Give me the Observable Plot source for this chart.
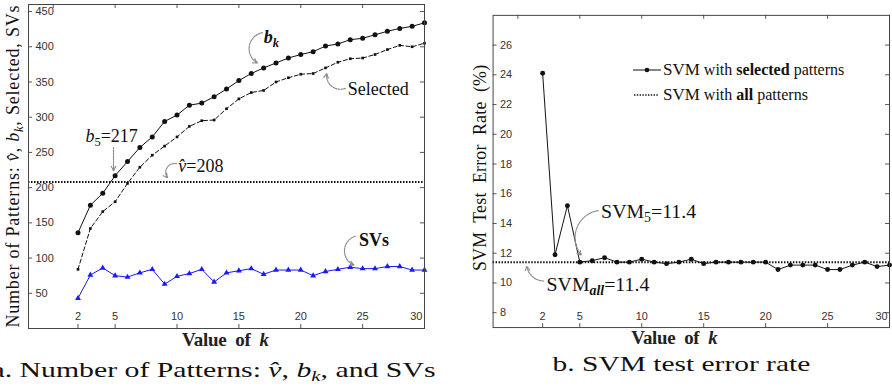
<!DOCTYPE html>
<html><head><meta charset="utf-8">
<script src="https://cdn.jsdelivr.net/npm/d3@7"></script>
<script src="https://cdn.jsdelivr.net/npm/@observablehq/plot@0.6"></script>
<style>
html,body{margin:0;padding:0;background:#fff;overflow:hidden;width:892px;height:391px;}
#wrap{position:relative;width:892px;height:391px;overflow:hidden;background:#fff;}
#left{position:absolute;left:-20px;top:0;}
#right{position:absolute;left:446px;top:0;}
.lrow{position:absolute;left:633px;height:24px;display:flex;align-items:center;font-family:"Liberation Serif","Times New Roman",serif;font-size:16px;color:#111;white-space:nowrap;}
.lrow svg{display:block;margin-right:2px;}
.big{font-size:17px;}
</style></head>
<body><div id="wrap"><div id="left"></div><div id="right"></div>
<div class="lrow" style="top:58px"><svg width="28" height="24"><line x1="0" x2="28" y1="12" y2="12" stroke="#111" stroke-width="1"/><circle cx="14" cy="12" r="2.3" fill="#111"/></svg><span><span class="big">SVM</span> with <b>selected</b> patterns</span></div>
<div class="lrow" style="top:83px"><svg width="28" height="24"><line x1="1" x2="25" y1="12" y2="12" stroke="#111" stroke-width="1.6" stroke-dasharray="1.4,1.4"/></svg><span><span class="big">SVM</span> with <b>all</b> patterns</span></div>
</div>
<script>
// ---------- data ----------
const kValues = [2,3,4,5,6,7,8,9,10,11,12,13,14,15,16,17,18,19,20,21,22,23,24,25,26,27,28,29,30];
const bk       = [136,175,192,217,237,257,272,294,303,317,320,329,340,352,362,370,377,384,389,393,401,404,410,412,417,422,426,429,434];
const selected = [84,142,166,180,206,229,246,259,272,287,295,296,312,326,335,338,350,356,361,362,370,378,383,384,389,396,402,400,405];
const svs      = [43,76,86,75,73,79,84,63,74,78,84,66,79,82,85,77,83,83,83,75,81,84,87,85,85,88,88,83,83];
const vHat = 208;
const errSelected = [24.1,11.9,15.2,11.4,11.5,11.7,11.4,11.4,11.6,11.4,11.3,11.4,11.6,11.3,11.4,11.4,11.4,11.4,11.4,10.9,11.2,11.2,11.2,10.9,10.9,11.2,11.4,11.1,11.2];
const errAll = 11.4;

const xTickLabels = [2,5,10,15,20,25,30];
const topTicks = [0,5,10,15,20,25,30];
const leftYTicks = [50,100,150,200,250,300,350,400,450];
const rightYTicks = [8,10,12,14,16,18,20,22,24,26];

// annotations (data coordinates)
const leftNotes = [
  {id:"n-bk",  k:17.0, v:413, size:18},
  {id:"n-sel", k:23.8, v:339, size:18},
  {id:"n-b5",  k:2.6,  v:273, size:18},
  {id:"n-vh",  k:10.1, v:231, size:18},
  {id:"n-svs", k:24.7, v:126, size:18}
];
const leftArrows = [
  {k1:16.9, v1:420, k2:16.5, v2:377, bend:-70},
  {k1:23.6, v1:341, k2:22.1, v2:362, bend:60},
  {k1:4.87, v1:257, k2:4.87, v2:224, bend:0},
  {k1:9.96, v1:234, k2:9.23, v2:214, bend:-70},
  {k1:24.4, v1:131, k2:24.3, v2:90, bend:-70}
];
const rightNotes = [
  {id:"n-s5",  k:6.72, v:14.8, size:20},
  {id:"n-sa",  k:2.32, v:9.87, size:20}
];
const rightArrows = [
  {k1:6.48, v1:14.87, k2:5.12, v2:11.87, bend:-60},
  {k1:2.08, v1:10.13, k2:0.72, v2:11.13, bend:40}
];

const SANS = "Liberation Sans, Arial, sans-serif";
const SERIF = "Liberation Serif, Times New Roman, serif";
const AX = "#555";

const leftData = kValues.map((k,i)=>({k, bk:bk[i], selected:selected[i], svs:svs[i]}));
const rightData = kValues.map((k,i)=>({k, err:errSelected[i]}));

function frameTicks(xTicksTop, xTicksBottom, yTicks, iw, ih, tickLen) {
  return [
    Plot.ruleX(xTicksTop, {x:d=>d, insetBottom: ih - tickLen, stroke: AX}),
    Plot.ruleX(xTicksBottom, {x:d=>d, insetTop: ih - tickLen, stroke: AX}),
    Plot.ruleY(yTicks, {y:d=>d, insetRight: iw - tickLen, stroke: AX}),
    Plot.ruleY(yTicks, {y:d=>d, insetLeft: iw - tickLen, stroke: AX})
  ];
}
function tickLabels(xTicks, yTicks, dyX) {
  return [
    Plot.text(xTicks.filter(d=>d!==30), {x:d=>d, text:d=>String(d), frameAnchor:"bottom", lineAnchor:"bottom", dy:dyX, fontSize:11, fontFamily:SANS, fill:"#333"}),
    Plot.text(xTicks.filter(d=>d===30), {x:d=>d, text:d=>String(d), frameAnchor:"bottom", lineAnchor:"bottom", textAnchor:"end", dx:-2, dy:dyX, fontSize:11, fontFamily:SANS, fill:"#333"}),
    Plot.text(yTicks, {y:d=>d, text:d=>String(d), frameAnchor:"left", textAnchor:"start", dx:7, fontSize:11, fontFamily:SANS, fill:"#333"})
  ];
}
function arrows(list) {
  return list.map(a => Plot.arrow([a], {x1:"k1", y1:"v1", x2:"k2", y2:"v2", bend:a.bend, stroke:"#8a8a8a", strokeWidth:1.2, strokeDasharray:"1.6,1.2", headLength:6, headAngle:55}));
}
function notes(list) {
  return list.map(n => Plot.text([n], {x:"k", y:"v", text:"id", textAnchor:"start", fontSize:n.size, fontFamily:SERIF, fill:"#111"}));
}

// ---------- left chart ----------
const LW=466, LH=391, LML=48, LMR=22, LMT=4, LMB=63;
const liW = LW-LML-LMR, liH = LH-LMT-LMB;
const left = Plot.plot({
  width:LW, height:LH, marginLeft:LML, marginRight:LMR, marginTop:LMT, marginBottom:LMB,
  x:{domain:[-2,30], axis:null},
  y:{domain:[0,460], axis:null},
  style:{background:"transparent", overflow:"visible"},
  marks:[
    Plot.ruleY([vHat], {y:d=>d, stroke:"#111", strokeWidth:2, strokeDasharray:"1.5,1.5"}),
    Plot.line(leftData, {x:"k", y:"bk", stroke:"#111", strokeWidth:1}),
    Plot.dot(leftData, {x:"k", y:"bk", r:2.5, fill:"#111"}),
    Plot.line(leftData, {x:"k", y:"selected", stroke:"#111", strokeWidth:1, strokeDasharray:"4,2.5"}),
    Plot.dot(leftData, {x:"k", y:"selected", symbol:"square", r:1.5, fill:"#111"}),
    Plot.line(leftData, {x:"k", y:"svs", stroke:"#1a1aff", strokeWidth:1}),
    Plot.dot(leftData, {x:"k", y:"svs", symbol:"triangle", r:2.2, fill:"#1a1aff"}),
    ...frameTicks(topTicks, xTickLabels, leftYTicks, liW, liH, 4),
    ...tickLabels(xTickLabels, leftYTicks, -8.5),
    Plot.frame({stroke:"#444"}),
    ...arrows(leftArrows),
    ...notes(leftNotes),
    Plot.text(["x-title"], {frameAnchor:"bottom", lineAnchor:"bottom", dx:-1, dy:17, fontSize:19, fontWeight:"bold", fontFamily:SERIF, fill:"#222"}),
    Plot.text(["y-title"], {frameAnchor:"bottom-left", lineAnchor:"middle", textAnchor:"start", rotate:-90, dx:-15, dy:-1, fontSize:18, fontFamily:SERIF, fill:"#111"}),
    Plot.text(["caption"], {frameAnchor:"bottom", lineAnchor:"bottom", dx:-13, dy:48, fontSize:22, fontFamily:SERIF, fill:"#111"})
  ]
});
document.getElementById("left").appendChild(left);

// ---------- right chart ----------
const RW=450, RH=391, RML=47, RMR=3, RMT=15, RMB=61;
const riW = RW-RML-RMR, riH = RH-RMT-RMB;
const right = Plot.plot({
  width:RW, height:RH, marginLeft:RML, marginRight:RMR, marginTop:RMT, marginBottom:RMB,
  x:{domain:[-2,30], axis:null},
  y:{domain:[7,28], axis:null},
  style:{background:"transparent", overflow:"visible"},
  marks:[
    Plot.ruleY([errAll], {y:d=>d, stroke:"#111", strokeWidth:2, strokeDasharray:"1.5,1.5"}),
    Plot.line(rightData, {x:"k", y:"err", stroke:"#111", strokeWidth:1}),
    Plot.dot(rightData, {x:"k", y:"err", r:2.5, fill:"#111"}),
    ...frameTicks(topTicks, xTickLabels, rightYTicks, riW, riH, 4),
    ...tickLabels(xTickLabels, rightYTicks, -8),
    Plot.frame({stroke:"#444"}),
    ...arrows(rightArrows),
    ...notes(rightNotes),
    Plot.text(["x-title"], {frameAnchor:"bottom", lineAnchor:"bottom", dx:-17, dy:17, fontSize:19, fontWeight:"bold", fontFamily:SERIF, fill:"#222"}),
    Plot.text(["y-title"], {frameAnchor:"bottom-left", lineAnchor:"middle", textAnchor:"start", rotate:-90, dx:-13, dy:-57, fontSize:18, fontFamily:SERIF, fill:"#111"}),
    Plot.text(["caption"], {frameAnchor:"bottom", lineAnchor:"bottom", dx:-10, dy:44, fontSize:22, fontFamily:SERIF, fill:"#111"})
  ]
});
document.getElementById("right").appendChild(right);

// ---------- rich text (subscripts / styles) ----------
function rich(svg, key, parts, opts = {}) {
  const t = Array.from(svg.querySelectorAll("text")).find(e => e.textContent === key);
  if (!t) return;
  while (t.firstChild) t.removeChild(t.firstChild);
  let shift = 0;
  const sub = opts.subShift || 4;
  for (const p of parts) {
    const s = document.createElementNS("http://www.w3.org/2000/svg", "tspan");
    s.textContent = p.t;
    const target = p.sub ? sub : 0;
    if (target !== shift) { s.setAttribute("dy", target - shift); shift = target; }
    if (p.sub) s.setAttribute("font-size", "0.7em");
    if (p.i) s.setAttribute("font-style", "italic");
    if (p.b) s.setAttribute("font-weight", "bold");
    t.appendChild(s);
  }
  if (opts.len) { t.setAttribute("textLength", opts.len); t.setAttribute("lengthAdjust", opts.adjust || "spacingAndGlyphs"); }
}
const VH = "v\u0302";
rich(left, "n-bk", [{t:"b", i:1, b:1}, {t:"k", i:1, b:1, sub:1}]);
rich(left, "n-sel", [{t:"Selected"}]);
rich(left, "n-svs", [{t:"SVs", b:1}]);
rich(left, "n-b5", [{t:"b", i:1}, {t:"5", sub:1}, {t:"=217"}]);
rich(left, "n-vh", [{t:VH, i:1}, {t:"=208"}]);
rich(left, "x-title", [{t:"Value  of  "}, {t:"k", i:1}], {len:87, adjust:"spacing"});
rich(left, "y-title", [{t:"Number of Patterns: "}, {t:VH, i:1}, {t:", "}, {t:"b", i:1}, {t:"k", i:1, sub:1}, {t:", Selected, SVs"}], {len:322, adjust:"spacing"});
rich(left, "caption", [{t:"a. Number of Patterns: "}, {t:VH, i:1}, {t:", "}, {t:"b", i:1}, {t:"k", i:1, sub:1}, {t:", and SVs"}], {len:444});
rich(right, "n-s5", [{t:"SVM"}, {t:"5", sub:1}, {t:"=11.4"}]);
rich(right, "n-sa", [{t:"SVM"}, {t:"all", sub:1, i:1, b:1}, {t:"=11.4"}]);
rich(right, "x-title", [{t:"Value  of  "}, {t:"k", i:1}], {len:87, adjust:"spacing"});
rich(right, "y-title", [{t:"SVM  Test  Error  Rate  (%)"}], {len:208, adjust:"spacing"});
rich(right, "caption", [{t:"b. SVM test error rate"}], {len:260});
</script>
</body></html>
